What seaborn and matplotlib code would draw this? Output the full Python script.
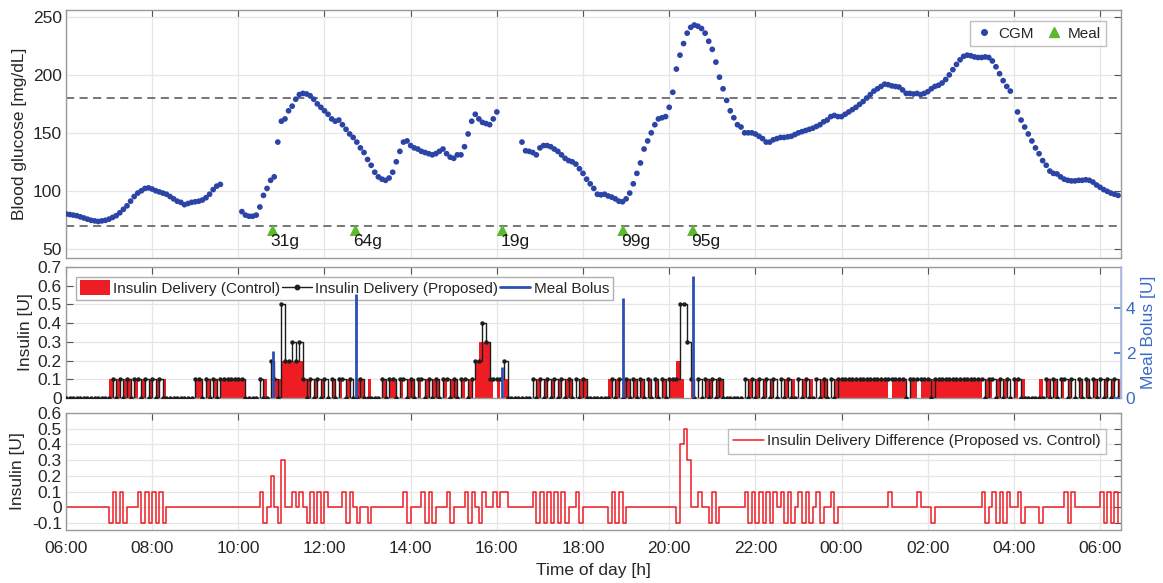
import numpy as np
import pandas as pd
import matplotlib
matplotlib.use("Agg")
import matplotlib.pyplot as plt
import seaborn as sns
from matplotlib.patches import Patch
from matplotlib.lines import Line2D

sns.set_theme(style="white")
plt.rcParams['font.family'] = ['Liberation Sans', 'DejaVu Sans']

nan = np.nan
# ---------------- data (5-minute samples starting 06:00) ----------------
step_minutes = 5
cgm_mgdl = [
    80, 79.5, 79, 78.5, 77.5, 76.5, 75.5, 74.5, 74, 73.5, 74, 74.5,
    75.5, 77, 78.5, 81, 84, 87, 91, 95, 98, 100, 102, 102.5,
    101.5, 100, 99, 98, 97, 95, 93, 91, 90, 88, 89, 90,
    90.5, 91, 92, 94, 97, 101, 104, 105.5, nan, nan, nan, nan,
    nan, 82, 79, 78, 78, 79, 86, 96, 102, 109, 112, 142,
    160, 162, 169, 173, 179, 183, 184, 183.5, 182, 179, 175, 172,
    169, 166, 162, 160, 161, 157, 153, 149, 146, 142, 137, 133,
    127, 122, 116, 112, 110, 109, 111, 116, 125, 134, 142, 143,
    139, 137, 136, 134, 133, 132, 131, 132, 134, 136, 132, 129,
    128, 131, 131, 138, 149, 160, 166, 162, 159, 158, 157, 162,
    168, nan, nan, nan, nan, nan, nan, 142, 134.5, 134, 133, 131,
    137, 139, 139, 138, 136, 134, 131, 128, 126, 125, 123, 119,
    115, 110, 106, 102, 97, 96.5, 97, 95.5, 94.5, 93, 91, 90.5,
    93, 98, 106, 115, 124, 136, 143, 150, 157, 162, 163, 164,
    172, 185, 205, 217, 227, 236, 241, 243, 242, 240, 236, 229,
    222, 211, 198, 188, 178, 169, 163, 157, 155, 150, 150, 150,
    149, 147, 145, 142, 142, 144, 145, 146, 146, 146.5, 147, 148.5,
    150, 151, 152, 153, 154, 155.5, 157, 159.5, 161, 164, 165, 164,
    164, 166, 168, 170, 172, 174.5, 177, 180, 183, 186, 188, 190,
    192, 191.5, 190.5, 190, 189.5, 187, 184, 184, 183.5, 184, 183, 184,
    185.5, 188, 190, 191, 193, 196, 200, 204.5, 209, 213, 216, 217,
    216.5, 215.5, 215, 215, 215.5, 215, 212, 207, 201, 195, 190, 186,
    nan, 168, 161, 155, 149, 143, 137, 132, 126, 122, 117, 115,
    114.5, 112, 110, 109, 108.5, 108.5, 109, 109, 109.5, 109, 107.5, 105,
    103, 101, 99.5, 98, 97, 96,
]

# insulin per 5-min step, in tenths of a unit
control_tenths = [
    0, 0, 0, 0, 0, 0, 0, 0, 0, 0, 0, 0,
    1, 0, 1, 0, 1, 1, 0, 1, 0, 1, 0, 1,
    0, 1, 0, 1, 0, 0, 0, 0, 0, 0, 0, 0,
    1, 1, 0, 1, 0, 1, 0, 1, 1, 1, 1, 1,
    1, 1, 0, 0, 0, 0, 0, 1, 0, 0, 1, 1,
    2, 2, 2, 2, 2, 2, 1, 1, 0, 1, 0, 1,
    0, 0, 1, 0, 1, 0, 1, 0, 0, 1, 1, 0,
    1, 0, 0, 0, 1, 0, 1, 1, 0, 1, 0, 1,
    1, 0, 1, 0, 1, 0, 1, 1, 0, 1, 0, 1,
    1, 0, 1, 0, 1, 0, 2, 3, 3, 3, 1, 0,
    1, 0, 1, 0, 0, 0, 0, 0, 0, 0, 0, 1,
    0, 1, 0, 1, 0, 1, 0, 1, 1, 0, 0, 1,
    1, 0, 0, 0, 0, 0, 0, 1, 0, 1, 0, 1,
    1, 0, 1, 0, 1, 0, 1, 0, 1, 0, 1, 0,
    1, 1, 2, 1, 0, 0, 1, 0, 0, 0, 1, 1,
    0, 1, 1, 0, 0, 0, 0, 0, 0, 0, 1, 0,
    1, 0, 1, 0, 1, 0, 0, 0, 1, 0, 1, 0,
    0, 1, 0, 1, 0, 0, 1, 1, 0, 0, 1, 1,
    1, 1, 1, 1, 1, 1, 1, 1, 1, 1, 1, 1,
    1, 0, 1, 1, 1, 1, 0, 1, 1, 0, 1, 1,
    1, 1, 1, 1, 1, 1, 1, 1, 1, 1, 1, 1,
    1, 1, 1, 0, 1, 1, 0, 1, 0, 1, 0, 0,
    1, 0, 1, 0, 0, 0, 0, 1, 0, 1, 0, 1,
    0, 1, 0, 1, 0, 0, 1, 0, 1, 0, 1, 0,
    0, 1, 0, 1, 0, 1,
]
proposed_tenths = [
    0, 0, 0, 0, 0, 0, 0, 0, 0, 0, 0, 0,
    0, 1, 0, 1, 0, 1, 0, 1, 1, 0, 1, 0,
    1, 0, 1, 0, 0, 0, 0, 0, 0, 0, 0, 0,
    1, 1, 0, 1, 0, 1, 0, 1, 1, 1, 1, 1,
    1, 1, 0, 0, 0, 0, 1, 0, 0, 2, 1, 0,
    5, 2, 2, 3, 2, 3, 1, 0, 1, 0, 1, 0,
    1, 0, 1, 0, 1, 1, 0, 1, 0, 0, 1, 0,
    0, 0, 0, 0, 1, 0, 1, 1, 0, 1, 1, 0,
    1, 0, 1, 1, 0, 1, 0, 1, 0, 1, 1, 0,
    1, 0, 1, 1, 0, 1, 2, 2, 4, 3, 1, 1,
    1, 1, 2, 0, 0, 0, 0, 0, 0, 0, 1, 0,
    1, 0, 1, 0, 1, 0, 1, 0, 1, 0, 1, 0,
    1, 0, 0, 0, 0, 0, 0, 0, 1, 0, 1, 0,
    1, 0, 1, 0, 1, 0, 1, 0, 1, 0, 1, 0,
    1, 1, 1, 5, 5, 3, 1, 0, 1, 0, 1, 0,
    1, 0, 1, 0, 0, 0, 0, 0, 0, 1, 0, 1,
    0, 1, 0, 1, 0, 1, 0, 1, 0, 1, 0, 0,
    1, 0, 1, 0, 0, 1, 0, 1, 0, 1, 0, 1,
    1, 1, 1, 1, 1, 1, 1, 1, 1, 1, 1, 1,
    1, 1, 1, 1, 1, 1, 0, 1, 1, 1, 1, 1,
    1, 0, 1, 1, 1, 1, 1, 1, 1, 1, 1, 1,
    1, 1, 1, 1, 0, 1, 1, 0, 1, 0, 1, 0,
    1, 1, 0, 0, 0, 0, 0, 0, 0, 1, 0, 1,
    0, 1, 1, 0, 1, 0, 1, 0, 1, 0, 1, 0,
    1, 0, 1, 0, 1, 0,
]

meal_time_h = [10.80, 12.72, 16.13, 18.93, 20.55]
meal_carbs_g = [31, 64, 19, 99, 95]
meal_bolus_u = [2.1, 4.6, 1.4, 4.45, 5.4]

glucose_thresholds = [70, 180]
x_tick_hours = [6, 8, 10, 12, 14, 16, 18, 20, 22, 24, 26, 28, 30]
x_tick_labels = ['06:00', '08:00', '10:00', '12:00', '14:00', '16:00', '18:00',
                 '20:00', '22:00', '00:00', '02:00', '04:00', '06:00']

# ---------------- derived frames ----------------
n = len(cgm_mgdl)
t_h = 6 + np.arange(n) * step_minutes / 60.0
df = pd.DataFrame({
    't': t_h,
    'cgm': cgm_mgdl,
    'control': np.array(control_tenths) / 10.0,
    'proposed': np.array(proposed_tenths) / 10.0,
})
df['diff'] = df['proposed'] - df['control']
meals = pd.DataFrame({'t': meal_time_h, 'carbs': meal_carbs_g, 'bolus': meal_bolus_u})

# ---------------- style ----------------
TXT = '#262626'
EDGE = '#9a9a9a'
GRID = '#e6e6e6'
BLUE_DOT = '#2b44a6'
GREEN = '#5cb82e'
RED = '#ee1d24'
BOLUS = '#2c4fb3'
AXBLUE = '#3a6bc8'
FS = 12.5
LFS = 11

fig = plt.figure(figsize=(11.63, 5.83), dpi=100)
L, W = 0.0567, 0.907
ax1 = fig.add_axes([L, 0.5575, W, 0.4254])
ax2 = fig.add_axes([L, 0.3173, W, 0.2247])
ax3 = fig.add_axes([L, 0.0909, W, 0.2007])
XMAX = 30.48

def style(ax):
    ax.set_xlim(6, XMAX)
    ax.set_xticks(x_tick_hours)
    ax.grid(True, color=GRID, lw=0.9)
    ax.set_axisbelow(True)
    for s in ax.spines.values():
        s.set_color(EDGE)
        s.set_linewidth(1.0)
    ax.tick_params(direction='in', length=5, width=0.8, color='#555555',
                   labelsize=FS, labelcolor=TXT, top=True, right=True, pad=3)

# ---- top: CGM ----
style(ax1)
for th in glucose_thresholds:
    ax1.axhline(th, color='#6b6b6b', lw=1.3, ls=(0, (4.5, 3)), zorder=2)
sns.scatterplot(data=df, x='t', y='cgm', ax=ax1, color=BLUE_DOT, s=17,
                edgecolor='none', linewidth=0, zorder=3, legend=False)
meal_marker_y = 66
sns.scatterplot(x=meals['t'], y=[meal_marker_y] * len(meals), ax=ax1, marker='^',
                color=GREEN, s=70, edgecolor='none', zorder=3, legend=False)
for tm, g in zip(meals['t'], meals['carbs']):
    ax1.text(tm - 0.05, 56, f"{g}g", fontsize=FS, color='#1a1a1a', ha='left', va='center')
ax1.set_ylim(42, 256)
ax1.set_yticks([50, 100, 150, 200, 250])
ax1.set_xticklabels([])
ax1.set_xlabel('')
ax1.set_ylabel('Blood glucose [mg/dL]', fontsize=FS, color=TXT, labelpad=4)
h_cgm = Line2D([], [], ls='none', marker='o', markersize=4, color=BLUE_DOT)
h_meal = Line2D([], [], ls='none', marker='^', markersize=7, color=GREEN)
lg = ax1.legend([h_cgm, h_meal], ['CGM', 'Meal'], loc='upper right', ncol=2,
                fontsize=LFS, frameon=True, fancybox=False, borderpad=0.35,
                handletextpad=0.3, columnspacing=0.7, handlelength=1.2,
                bbox_to_anchor=(0.993, 0.985))
lg.get_frame().set_edgecolor('#b0b0b0')
lg.get_frame().set_linewidth(1.0)

# ---- middle: insulin delivery ----
style(ax2)
ax2.tick_params(right=False)
ax2.bar(df['t'], df['control'], width=step_minutes / 60.0, align='edge',
        color=RED, edgecolor='none', zorder=2)
sns.lineplot(data=df, x='t', y='proposed', ax=ax2, drawstyle='steps-post',
             color='#1e1e1e', lw=1.0, marker='o', markersize=3.2,
             markeredgewidth=0, zorder=4, legend=False)
ax2.set_ylim(0, 0.7)
ax2.set_yticks(np.arange(0, 0.71, 0.1))
ax2.set_yticklabels(['0', '0.1', '0.2', '0.3', '0.4', '0.5', '0.6', '0.7'])
ax2.set_xticklabels([])
ax2.set_xlabel('')
ax2.set_ylabel('Insulin [U]', fontsize=FS, color=TXT, labelpad=3)
ax2b = ax2.twinx()
ax2b.vlines(meals['t'], 0, meals['bolus'], color=BOLUS, lw=2.0, zorder=3)
ax2b.set_ylim(0, 5.82)
ax2b.set_yticks([0, 2, 4])
ax2b.tick_params(direction='in', length=5, color=AXBLUE, labelcolor=AXBLUE, labelsize=FS)
for s in ax2b.spines.values():
    s.set_visible(False)
ax2b.spines['right'].set_visible(True)
ax2b.spines['right'].set_color('#a9bde6')
ax2b.set_ylabel('Meal Bolus [U]', fontsize=FS, color=AXBLUE, labelpad=4)
ax2b.grid(False)
h_ctrl = Patch(facecolor=RED, edgecolor='none')
h_prop = Line2D([], [], color='#1e1e1e', lw=1.0, marker='o', markersize=3.2)
h_bol = Line2D([], [], color=BOLUS, lw=2.0)
lg2 = ax2.legend([h_ctrl, h_prop, h_bol],
                 ['Insulin Delivery (Control)', 'Insulin Delivery (Proposed)', 'Meal Bolus'],
                 loc='upper left', ncol=3, fontsize=LFS, frameon=True, fancybox=False,
                 borderpad=0.25, handletextpad=0.2, columnspacing=0.1, handlelength=2.0,
                 handleheight=1.1, bbox_to_anchor=(0.002, 0.985), framealpha=1)
lg2.get_frame().set_edgecolor('#b0b0b0')
lg2.set_zorder(10)

# ---- bottom: difference ----
style(ax3)
sns.lineplot(data=df, x='t', y='diff', ax=ax3, drawstyle='steps-post',
             color=RED, lw=1.1, legend=False)
ax3.set_ylim(-0.145, 0.6)
ax3.set_yticks([-0.1, 0, 0.1, 0.2, 0.3, 0.4, 0.5, 0.6])
ax3.set_yticklabels(['-0.1', '0', '0.1', '0.2', '0.3', '0.4', '0.5', '0.6'])
ax3.set_xticklabels(x_tick_labels)
ax3.tick_params(axis='x', pad=8)
ax3.set_xlabel('Time of day [h]', fontsize=FS, color=TXT, labelpad=5)
ax3.set_ylabel('Insulin [U]', fontsize=FS, color=TXT, labelpad=5)
h_diff = Line2D([], [], color=RED, lw=1.1)
lg3 = ax3.legend([h_diff], ['Insulin Delivery Difference (Proposed vs. Control)'],
                 loc='upper right', fontsize=LFS, frameon=True, fancybox=False,
                 borderpad=0.35, handletextpad=0.2, handlelength=2.0,
                 bbox_to_anchor=(0.993, 0.93))
lg3.get_frame().set_edgecolor('#b0b0b0')

fig.savefig('out.png', dpi=100)
